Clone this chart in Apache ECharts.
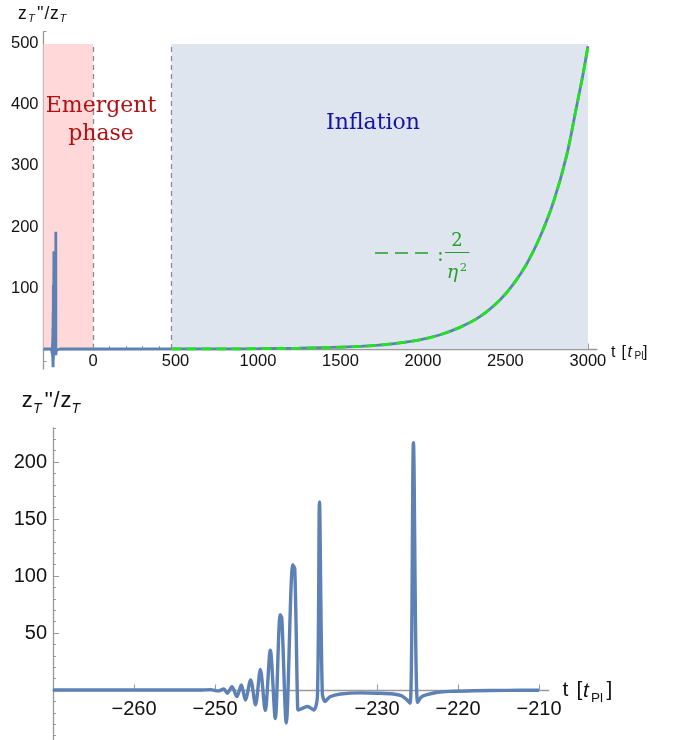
<!DOCTYPE html>
<html><head><meta charset="utf-8">
<script src="https://cdn.jsdelivr.net/npm/echarts@6/dist/echarts.min.js"></script>
<style>html,body{margin:0;padding:0;background:#fff}#c{width:675px;height:740px}</style>
</head><body><div id="c"></div>
<script>
// ---------- data ----------
// top panel: early spike region (t in t_Pl, value z_T''/z_T)
const topSpikeT = [-300, -252, -246.3, -245.6, -245.0, -244.4, -243.8, -243.2, -242.6, -241.9, -241.2, -240.3, -239.7, -237.8, -237.1, -236.4, -230, -225.9, -225.5, -225.0, -222, -200, 0, 475];
const topSpikeV = [0, 0, -9, 9, -13, 18, -20, 35, -30, 60, -29, 105, -17, -17, 160, -10, -3, -10, 192, -10, -2, 0, 0, 0.1];
// top panel: inflation curve (numerical and 2/eta^2 overlay)
const infT = [475, 750, 1000, 1250, 1500, 1700, 1860, 1980, 2100, 2220, 2345, 2465, 2550, 2630, 2710, 2790, 2870, 2930, 2970, 3000];
const infV = [0.1, 0.25, 0.55, 1.3, 3, 5.5, 10, 15, 23, 35, 53, 80, 107, 140, 184, 240, 316, 396, 450, 496];
// bottom panel: zoom on the emergent-phase oscillations
const botT = [-270, -252, -250.5, -249.6, -248.9, -248.5, -247.9, -247.3, -246.75, -246.25, -245.6, -245.0, -244.4, -243.8, -243.17, -242.56, -241.95, -241.75, -241.2, -240.4, -240.15, -239.8, -239.7, -238.6, -237.8, -237.35, -237.1, -236.75, -236.4, -235.8, -234.5, -232, -230, -228, -227, -226.4, -225.9, -225.5, -225.0, -224.5, -223.8, -222.5, -221, -218, -214, -210];
const botV = [0, 0, 0.3, -0.8, 0.9, -2.9, 2.9, -5.8, 4.4, -8.8, 8.8, -13, 18, -18, 35, -25, 66, 63, -29, 110, 106, -15, -17.5, -14.5, -17.5, -5, 165, -3, -10, -6, -3.5, -2.5, -2.8, -3.5, -5, -8, -11.5, 217, -11, -6, -4, -2, -1.2, -0.6, -0.3, -0.2];
// tick / label values
const topXLabels = [0, 500, 1000, 1500, 2000, 2500, 3000];
const topXMinor = [-200, -100, 100, 200, 300, 400, 600, 700, 800, 900, 1100, 1200, 1300, 1400, 1600, 1700, 1800, 1900, 2100, 2200, 2300, 2400, 2600, 2700, 2800, 2900];
const topYLabels = [100, 200, 300, 400, 500];
const topYMinor = [20, 40, 60, 80, 120, 140, 160, 180, 220, 240, 260, 280, 320, 340, 360, 380, 420, 440, 460, 480, 520];
const topYNeg = [-20];
const botXLabels = [-260, -250, -230, -220, -210];
const botYLabels = [50, 100, 150, 200];
const botYMinor = [10, 20, 30, 40, 60, 70, 80, 90, 110, 120, 130, 140, 160, 170, 180, 190, 210, 220, 230];
const botYNeg = [-10, -20, -30, -40];
const regionEmergent = [-300, 0];
const regionInflation = [475, 3000];
const regionTop = 500;

// ---------- chart ----------
const zip = (a, b) => a.map((x, i) => [x, b[i]]);
const AX = '#999999';
const LBL = {color: '#111', fontFamily: 'Liberation Sans'};
const plain = v => (v < 0 ? '\u2212' + Math.abs(v) : String(v));

function txt(s, x, base, size, o) {
  o = o || {};
  return {type: 'text', x: x, y: base - 0.3 * size, silent: true, z: 100,
    style: {text: s, fontSize: size, fontFamily: o.ff || 'Liberation Sans',
      fontStyle: o.it ? 'italic' : 'normal', fill: o.c || '#111',
      align: o.al || 'left', verticalAlign: 'middle',
      textAlign: o.al || 'left', textVerticalAlign: 'middle'}};
}
function hiddenX(g, min, max) {
  return {gridIndex: g, type: 'value', min: min, max: max, show: false};
}
function minorY(g, min, max, vals, len) {
  return {gridIndex: g, type: 'value', position: 'left', min: min, max: max, splitLine: {show: false},
    axisLine: {show: g % 2 === 1, onZero: false, lineStyle: {color: AX, width: 1.3}},
    axisTick: {inside: true, length: len, customValues: vals, lineStyle: {color: AX}},
    axisLabel: {show: false}};
}
const GREEN_T = '#23a02b';

const chart = echarts.init(document.getElementById('c'), null, {renderer: 'canvas'});
chart.setOption({
  animation: false,
  backgroundColor: '#fff',
  grid: [
    {left: 43.5, top: 31.7, width: 553.5, height: 317.3, outerBoundsMode: 'none', containLabel: false},
    {left: 43.5, top: 349, width: 553.5, height: 20.1, outerBoundsMode: 'none', containLabel: false},
    {left: 53, top: 427.8, width: 495.7, height: 262.2, outerBoundsMode: 'none', containLabel: false},
    {left: 53, top: 690, width: 495.7, height: 50.2, outerBoundsMode: 'none', containLabel: false}
  ],
  xAxis: [
    {gridIndex: 0, type: 'value', position: 'bottom', min: -300, max: 3055, splitLine: {show: false},
      axisLine: {onZero: false, lineStyle: {color: AX, width: 1.3}},
      axisTick: {inside: true, length: 5.5, customValues: topXLabels, lineStyle: {color: AX}},
      axisLabel: Object.assign({customValues: topXLabels, fontSize: 16.5, margin: 4, formatter: plain}, LBL)},
    {gridIndex: 0, type: 'value', position: 'bottom', min: -300, max: 3055, splitLine: {show: false},
      axisLine: {show: false, onZero: false},
      axisTick: {inside: true, length: 3, customValues: topXMinor, lineStyle: {color: AX}},
      axisLabel: {show: false}},
    hiddenX(1, -300, 3055),
    {gridIndex: 2, type: 'value', position: 'bottom', min: -270, max: -208.8, splitLine: {show: false},
      axisLine: {onZero: false, lineStyle: {color: AX, width: 1.3}},
      axisTick: {inside: true, length: 5.5, customValues: botXLabels, lineStyle: {color: AX}},
      axisLabel: Object.assign({customValues: botXLabels, fontSize: 20, margin: 9, formatter: plain}, LBL)},
    hiddenX(3, -270, -208.8)
  ],
  yAxis: [
    {gridIndex: 0, type: 'value', position: 'left', min: 0, max: 520, splitLine: {show: false},
      axisLine: {onZero: false, lineStyle: {color: AX, width: 1.3}},
      axisTick: {inside: true, length: 5.5, customValues: topYLabels, lineStyle: {color: AX}},
      axisLabel: Object.assign({customValues: topYLabels, fontSize: 16.5, margin: 5, formatter: plain}, LBL)},
    minorY(0, 0, 520, topYMinor, 3),
    minorY(1, -33, 0, topYNeg, 3),
    {gridIndex: 2, type: 'value', position: 'left', min: 0, max: 230, splitLine: {show: false},
      axisLine: {onZero: false, lineStyle: {color: AX, width: 1.3}},
      axisTick: {inside: true, length: 6, customValues: botYLabels, lineStyle: {color: AX}},
      axisLabel: Object.assign({customValues: botYLabels, fontSize: 20, margin: 6, formatter: plain}, LBL)},
    minorY(2, 0, 230, botYMinor, 3),
    minorY(3, -44, 0, botYNeg, 3)
  ],
  series: [
    {type: 'line', xAxisIndex: 0, yAxisIndex: 0, data: [], z: 1, silent: true,
      markArea: {silent: true, label: {show: false}, data: [
        [{coord: [regionEmergent[0], 0], itemStyle: {color: '#ffd8da', opacity: 1}}, {coord: [regionEmergent[1], regionTop]}],
        [{coord: [regionInflation[0], 0], itemStyle: {color: '#dfe5ef', opacity: 1}}, {coord: [regionInflation[1], regionTop]}]
      ]},
      markLine: {silent: true, symbol: ['none', 'none'], label: {show: false},
        lineStyle: {color: '#8a8a8a', type: [5, 4], width: 1.3},
        data: [
          [{coord: [regionEmergent[1], 0]}, {coord: [regionEmergent[1], regionTop]}],
          [{coord: [regionInflation[0], 0]}, {coord: [regionInflation[0], regionTop]}]
        ]}},
    {type: 'line', xAxisIndex: 0, yAxisIndex: 0, data: zip(topSpikeT, topSpikeV), showSymbol: false, z: 3, clip: false,
      lineStyle: {color: '#5e81b5', width: 2.8}},
    {type: 'line', xAxisIndex: 0, yAxisIndex: 0, data: zip(infT, infV), showSymbol: false, smooth: 0.35, z: 3, clip: false,
      lineStyle: {color: '#5e81b5', width: 2.8}},
    {type: 'line', xAxisIndex: 0, yAxisIndex: 0, data: zip(infT, infV), showSymbol: false, smooth: 0.35, z: 4, clip: false,
      lineStyle: {color: '#22e41e', width: 2.8, type: [10, 5]}},
    {type: 'line', xAxisIndex: 3, yAxisIndex: 3, data: zip(botT, botV), showSymbol: false, z: 3, clip: false, smooth: 0.3,
      lineStyle: {color: '#5e81b5', width: 3.4}}
  ],
  graphic: [
    // top y title z_T''/z_T
    txt('z', 18, 19.3, 17.5), txt('T', 28, 22.5, 11, {it: true}), txt("''", 37, 19.3, 17.5), txt('/', 44.5, 19.3, 17.5),
    txt('z', 50, 19.3, 17.5), txt('T', 59.5, 22.5, 11, {it: true}),
    // bottom y title
    txt('z', 21.7, 408, 22), txt('T', 33, 413, 14, {it: true}), txt("''", 44.5, 408, 22), txt('/', 53.5, 408, 22),
    txt('z', 60.5, 408, 22), txt('T', 71.5, 413, 14, {it: true}),
    // top x title t [t_Pl]
    txt('t', 611, 357, 16), txt('[', 621.5, 357, 16), txt('t', 627.5, 357, 16, {it: true}), txt('Pl', 634.5, 359.5, 10), txt(']', 643, 357, 16),
    // bottom x title
    txt('t', 562.5, 697, 21), txt('[', 576.5, 697, 21), txt('t', 583, 697, 21, {it: true}), txt('Pl', 591, 702, 13.5), txt(']', 606.5, 697, 21),
    // region labels
    txt('Emergent', 101, 113, 22, {ff: 'DejaVu Serif', c: '#b01212', al: 'center'}),
    txt('phase', 101, 141, 22, {ff: 'DejaVu Serif', c: '#b01212', al: 'center'}),
    txt('Inflation', 373, 130, 22, {ff: 'DejaVu Serif', c: '#1414a8', al: 'center'}),
    // legend annotation  - - - : 2/eta^2
    {type: 'line', silent: true, z: 100, shape: {x1: 375, y1: 253, x2: 431, y2: 253},
      style: {stroke: GREEN_T, lineWidth: 1.3, lineDash: [13, 7]}},
    txt(':', 437, 262, 20, {ff: 'DejaVu Serif', c: GREEN_T}),
    {type: 'line', silent: true, z: 100, shape: {x1: 445, y1: 252.5, x2: 469.5, y2: 252.5},
      style: {stroke: GREEN_T, lineWidth: 1}},
    txt('2', 457, 247, 18, {ff: 'DejaVu Serif', c: GREEN_T, al: 'center'}),
    txt('\u03b7', 452.5, 279, 19, {ff: 'DejaVu Serif', c: GREEN_T, al: 'center', it: true}),
    txt('2', 463.5, 271, 11.5, {ff: 'DejaVu Serif', c: GREEN_T, al: 'center'})
  ]
});
</script>
</body></html>
